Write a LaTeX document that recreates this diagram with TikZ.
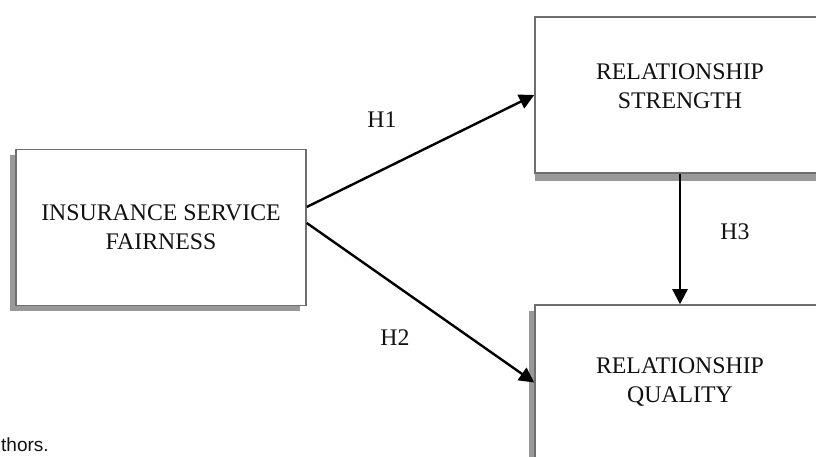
\documentclass[tikz,border=0pt]{standalone}
\usepackage{fontspec}
\setmainfont{Liberation Serif}
\newfontfamily\notefont{Liberation Sans}
\usetikzlibrary{arrows.meta, positioning, calc, shadows}
\definecolor{boxedge}{HTML}{6E6E6E}
\definecolor{boxshade}{HTML}{999999}
\definecolor{ink}{HTML}{111111}

\begin{document}
\begin{tikzpicture}[x=1pt, y=1pt, >={Triangle[length=15pt, width=15pt]},
  construct/.style={draw=boxedge, line width=1.5pt, fill=white,
    minimum width=290pt, minimum height=156pt, align=center,
    text=ink, font=\fontsize{23.8}{29}\selectfont},
  leftshade/.style={drop shadow={shadow xshift=-6pt, shadow yshift=-6pt,
      fill=boxshade, opacity=1}},
  downshade/.style={drop shadow={shadow xshift=0pt, shadow yshift=-8pt,
      fill=boxshade, opacity=1}},
  hypline/.style={draw=black, line width=2.4pt, ->},
  hyp/.style={text=ink, font=\fontsize{23.8}{29}\selectfont}]

% Canvas
\useasboundingbox (0,0) rectangle (816,457);

% --- Constructs ---
\node[construct, leftshade] (isf) at (161,229.5) {INSURANCE SERVICE\\FAIRNESS};
\node[construct, downshade,
  label={[hyp, align=center, yshift=9pt]center:RELATIONSHIP\\STRENGTH}]
  (rs) at (680,362) {};
\node[construct, leftshade, minimum height=155pt] (rq) at (680,74.5) {RELATIONSHIP\\QUALITY};

% --- Hypotheses ---
\draw[hypline] ($(isf.east)+(0,20.5)$) -- (rs.west);
\draw[hypline] ($(isf.east)+(0,4.5)$) -- (rq.west);
\draw[hypline] (rs.south) -- (rq.north);

\node[hyp] (h1) at (382,337) {H1};
\node[hyp] (h2) at (395,119) {H2};
\node[hyp] (h3) at (735,225) {H3};

% Source note (cut at the margin)
\node[anchor=base west, inner sep=0pt, text=ink, font=\notefont\fontsize{19}{22}\selectfont]
  (note) at (1,5) {thors.};

\end{tikzpicture}
\end{document}
